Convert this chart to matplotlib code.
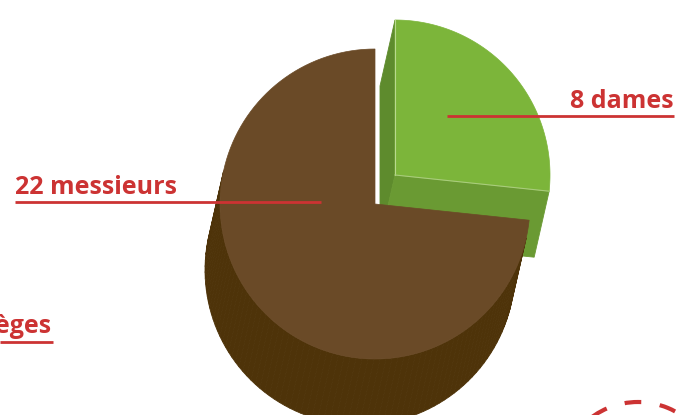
import numpy as np
import matplotlib.pyplot as plt
from matplotlib.patches import Polygon, Arc

# data
labels = ["8 dames", "22 messieurs"]
counts = [8, 22]
top_colors = ["#7cb53a", "#6a4a27"]
side_colors = ["#6a9a33", "#4e3309"]
edge_dark = ["#5e8b2d", "#4e3309"]
cut_label = "sièges"

# geometry (pixels)
cx, cy = 375, 204
radius = 155
depth = np.array([-15.0, 66.0])
explode = [np.array([20.0, -29.0]), np.array([0.0, 0.0])]
red = "#cc3333"

fig = plt.figure(figsize=(6.85, 4.15), dpi=100)
ax = fig.add_axes([0, 0, 1, 1])
ax.set_xlim(0, 685)
ax.set_ylim(415, 0)
ax.set_aspect("equal")
ax.axis("off")


def wedge_pts(center, a0, a1, n=120):
    # math angles in degrees, screen y goes down
    ang = np.radians(np.linspace(a0, a1, n))
    arc = np.column_stack([center[0] + radius * np.cos(ang),
                           center[1] - radius * np.sin(ang)])
    return np.vstack([[center], arc])


total = sum(counts)
start = 90.0
slices = []
for i, c in enumerate(counts):
    sweep = 360.0 * c / total
    a0, a1 = start, start - sweep
    start = a1
    center = np.array([cx, cy]) + explode[i]
    slices.append((i, center, a0, a1))


def draw_slice(i, center, a0, a1):
    pts = wedge_pts(center, a0, a1)
    # signed area to know winding
    x, y = pts[:, 0], pts[:, 1]
    area = 0.5 * np.sum(x * np.roll(y, -1) - np.roll(x, -1) * y)
    n = len(pts)
    for k in range(n):
        p, q = pts[k], pts[(k + 1) % n]
        e = q - p
        if np.hypot(*e) < 1e-9:
            continue
        # outward normal in screen coords
        nrm = np.array([e[1], -e[0]]) if area > 0 else np.array([-e[1], e[0]])
        if np.dot(nrm, depth) <= 0:
            continue
        radial = (k == 0) or (k == n - 1)
        if radial:
            col = side_colors[i] if k == n - 1 else edge_dark[i]
        else:
            col = side_colors[i] if i == 1 else edge_dark[i]
        quad = np.array([p, q, q + depth, p + depth])
        ax.add_patch(Polygon(quad, closed=True, facecolor=col,
                             edgecolor=col, lw=0.6, zorder=2 + i * 3))
    ax.add_patch(Polygon(pts, closed=True, facecolor=top_colors[i],
                         edgecolor=top_colors[i], lw=0.5, zorder=4 + i * 3))


for s in slices:
    draw_slice(*s)

# green highlight edges on top face
i, center, a0, a1 = slices[0]
ax.plot([center[0], center[0]], [center[1], center[1] - radius],
        color="#b8d98e", lw=0.8, zorder=5)
end = center + radius * np.array([np.cos(np.radians(a1)), -np.sin(np.radians(a1))])
ax.plot([center[0], end[0]], [center[1], end[1]], color="#a9cc7c", lw=0.8, zorder=5)

font = dict(family=["Open Sans", "DejaVu Sans"], fontweight="bold", color=red, fontsize=18)

# labels with leader lines
ax.text(15, 194, labels[1], ha="left", va="baseline", zorder=10, **font)
ax.plot([15, 321], [202, 202], color=red, lw=2, zorder=10, solid_capstyle="butt")

ax.text(674, 108, labels[0], ha="right", va="baseline", zorder=10, **font)
ax.plot([447, 674], [116, 116], color=red, lw=2, zorder=10, solid_capstyle="butt")

ax.text(52, 333, cut_label, ha="right", va="baseline", zorder=10, **font)
ax.plot([0, 53], [342, 342], color=red, lw=2, zorder=10, solid_capstyle="butt")

# dashed circle at bottom right
ax.add_patch(Arc((638, 480), 156, 156, theta1=0, theta2=360, color=red,
                 lw=3, ls=(0, (4, 4.5)), zorder=10))

fig.savefig("out.png", dpi=100)
